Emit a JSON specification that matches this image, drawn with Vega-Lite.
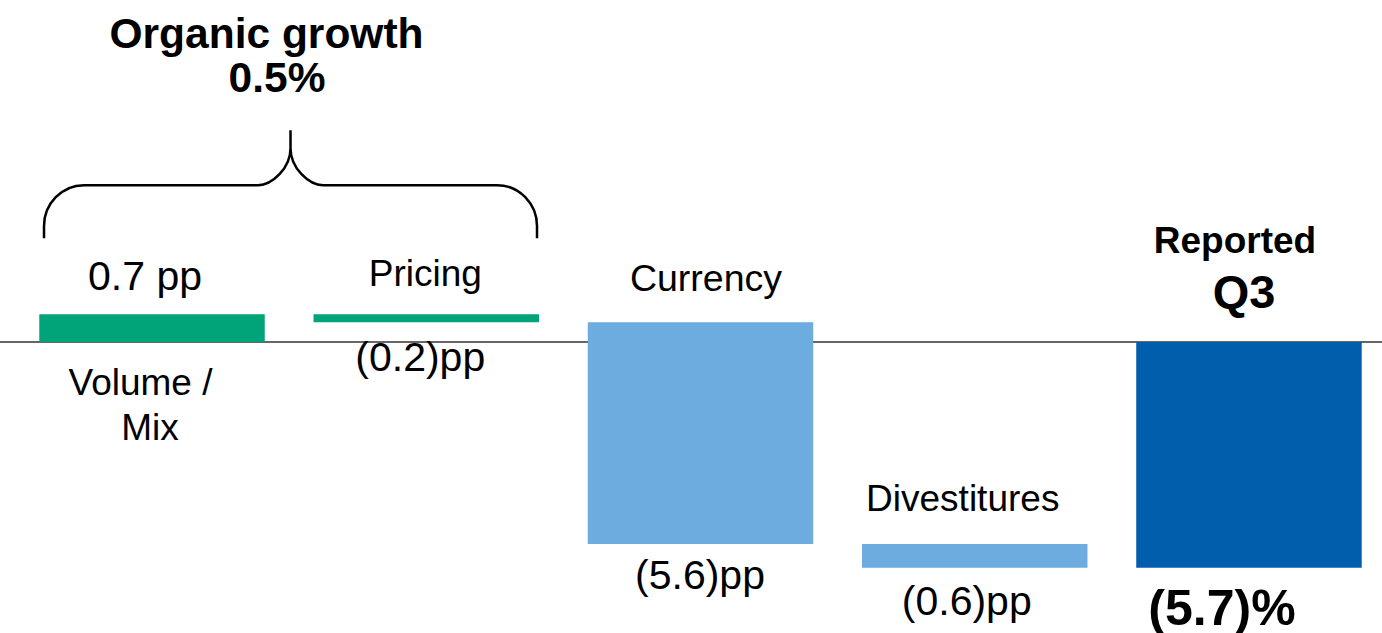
{
  "$schema": "https://vega.github.io/schema/vega-lite/v6.json",
  "width": 1382,
  "height": 633,
  "autosize": "none",
  "padding": 0,
  "background": "white",
  "config": {
    "view": {"stroke": null}
  },
  "data": {
    "values": [
      {"step": "Volume / Mix", "start": 0, "end": 0.7, "group": "Organic", "name": "Volume /", "sub": "Mix", "value": "0.7 pp"},
      {"step": "Pricing", "start": 0.7, "end": 0.5, "group": "Organic", "name": "Pricing", "value": "(0.2)pp"},
      {"step": "Currency", "start": 0.5, "end": -5.1, "group": "Other", "name": "Currency", "value": "(5.6)pp"},
      {"step": "Divestitures", "start": -5.1, "end": -5.7, "group": "Other", "name": "Divestitures", "value": "(0.6)pp"},
      {"step": "Reported Q3", "start": 0, "end": -5.7, "group": "Reported", "name": "Reported", "sub": "Q3", "value": "(5.7)%"}
    ]
  },
  "encoding": {
    "x": {
      "field": "step", "type": "nominal", "axis": null,
      "scale": {
        "domain": ["Volume / Mix", "Pricing", "Currency", "Divestitures", "Reported Q3"],
        "range": [0, 1401],
        "paddingInner": 0.1778, "paddingOuter": 0.1432
      }
    }
  },
  "layer": [
    {
      "data": {"values": [{"level": 0}]},
      "mark": {"type": "rule", "color": "#333333", "strokeWidth": 1.6},
      "encoding": {
        "x": null,
        "y": {"field": "level", "type": "quantitative", "axis": null, "scale": {"domain": [-7.348, 8.636], "nice": false, "zero": false}}
      }
    },
    {
      "mark": {"type": "bar"},
      "encoding": {
        "y": {"field": "start", "type": "quantitative", "axis": null},
        "y2": {"field": "end"},
        "color": {
          "field": "group", "type": "nominal", "legend": null,
          "scale": {"domain": ["Organic", "Other", "Reported"], "range": ["#00a478", "#6dacde", "#005eac"]}
        }
      }
    },
    {
      "transform": [{"filter": "datum.step == 'Pricing'"}],
      "mark": {"type": "text", "font": "Liberation Sans", "fontSize": 37, "baseline": "alphabetic", "align": "center", "dy": -28, "dx": -1},
      "encoding": {
        "y": {"field": "start", "type": "quantitative"},
        "text": {"field": "name", "type": "nominal"}
      }
    },
    {
      "transform": [{"filter": "datum.step == 'Currency'"}],
      "mark": {"type": "text", "font": "Liberation Sans", "fontSize": 37.5, "baseline": "alphabetic", "align": "center", "dy": -31, "dx": 5.5},
      "encoding": {
        "y": {"field": "start", "type": "quantitative"},
        "text": {"field": "name", "type": "nominal"}
      }
    },
    {
      "transform": [{"filter": "datum.step == 'Divestitures'"}],
      "mark": {"type": "text", "font": "Liberation Sans", "fontSize": 37, "baseline": "alphabetic", "align": "center", "dy": -33, "dx": -12},
      "encoding": {
        "y": {"field": "start", "type": "quantitative"},
        "text": {"field": "name", "type": "nominal"}
      }
    },
    {
      "transform": [{"filter": "datum.step == 'Pricing'"}],
      "mark": {"type": "text", "font": "Liberation Sans", "fontSize": 41, "baseline": "alphabetic", "align": "center", "dy": 49, "dx": -6},
      "encoding": {
        "y": {"field": "end", "type": "quantitative"},
        "text": {"field": "value", "type": "nominal"}
      }
    },
    {
      "transform": [{"filter": "datum.step == 'Currency'"}],
      "mark": {"type": "text", "font": "Liberation Sans", "fontSize": 41, "baseline": "alphabetic", "align": "center", "dy": 45, "dx": -0.5},
      "encoding": {
        "y": {"field": "end", "type": "quantitative"},
        "text": {"field": "value", "type": "nominal"}
      }
    },
    {
      "transform": [{"filter": "datum.step == 'Divestitures'"}],
      "mark": {"type": "text", "font": "Liberation Sans", "fontSize": 41, "baseline": "alphabetic", "align": "center", "dy": 47, "dx": -8},
      "encoding": {
        "y": {"field": "end", "type": "quantitative"},
        "text": {"field": "value", "type": "nominal"}
      }
    },
    {
      "transform": [{"filter": "datum.step == 'Volume / Mix'"}],
      "mark": {"type": "text", "font": "Liberation Sans", "fontSize": 41, "baseline": "alphabetic", "align": "center", "dy": -24, "dx": -7},
      "encoding": {
        "y": {"field": "end", "type": "quantitative"},
        "text": {"field": "value", "type": "nominal"}
      }
    },
    {
      "transform": [{"filter": "datum.step == 'Volume / Mix'"}],
      "mark": {"type": "text", "font": "Liberation Sans", "fontSize": 37, "baseline": "alphabetic", "align": "center", "dy": 53, "dx": -11.5},
      "encoding": {
        "y": {"field": "start", "type": "quantitative"},
        "text": {"field": "name", "type": "nominal"}
      }
    },
    {
      "transform": [{"filter": "datum.step == 'Volume / Mix'"}],
      "mark": {"type": "text", "font": "Liberation Sans", "fontSize": 37, "baseline": "alphabetic", "align": "center", "dy": 98, "dx": -2},
      "encoding": {
        "y": {"field": "start", "type": "quantitative"},
        "text": {"field": "sub", "type": "nominal"}
      }
    },
    {
      "transform": [{"filter": "datum.step == 'Reported Q3'"}],
      "mark": {"type": "text", "font": "Liberation Sans", "fontSize": 37, "fontWeight": "bold", "baseline": "alphabetic", "align": "center", "dy": -89, "dx": -14},
      "encoding": {
        "y": {"field": "start", "type": "quantitative"},
        "text": {"field": "name", "type": "nominal"}
      }
    },
    {
      "transform": [{"filter": "datum.step == 'Reported Q3'"}],
      "mark": {"type": "text", "font": "Liberation Sans", "fontSize": 47, "fontWeight": "bold", "baseline": "alphabetic", "align": "center", "dy": -34, "dx": -5},
      "encoding": {
        "y": {"field": "start", "type": "quantitative"},
        "text": {"field": "sub", "type": "nominal"}
      }
    },
    {
      "transform": [{"filter": "datum.step == 'Reported Q3'"}],
      "mark": {"type": "text", "font": "Liberation Sans", "fontSize": 50, "fontWeight": "bold", "baseline": "alphabetic", "align": "center", "dy": 57, "dx": -27},
      "encoding": {
        "y": {"field": "end", "type": "quantitative"},
        "text": {"field": "value", "type": "nominal"}
      }
    },
    {
      "data": {"values": [{"step": "Volume / Mix", "level": 3.96, "title": "Organic growth", "total": "0.5%"}]},
      "layer": [
        {
          "mark": {
            "type": "point",
            "shape": "M-1,0.215 L-1,0.166 C-1,0.075 -0.927,0 -0.838,0 L-0.132,0 C-0.075,0 0,-0.069 0,-0.15 L0,-0.223 M0,-0.15 C0,-0.069 0.075,0 0.132,0 L0.838,0 C0.927,0 1,0.075 1,0.166 L1,0.215",
            "size": 243049,
            "filled": false,
            "stroke": "#000000",
            "strokeWidth": 2.5,
            "opacity": 1,
            "xOffset": 138.5
          },
          "encoding": {
            "y": {"field": "level", "type": "quantitative"}
          }
        },
        {
          "mark": {"type": "text", "font": "Liberation Sans", "fontSize": 42.5, "fontWeight": "bold", "baseline": "alphabetic", "align": "center", "dy": -137, "dx": 114.5},
          "encoding": {
            "y": {"field": "level", "type": "quantitative"},
            "text": {"field": "title", "type": "nominal"}
          }
        },
        {
          "mark": {"type": "text", "font": "Liberation Sans", "fontSize": 42.5, "fontWeight": "bold", "baseline": "alphabetic", "align": "center", "dy": -93, "dx": 125},
          "encoding": {
            "y": {"field": "level", "type": "quantitative"},
            "text": {"field": "total", "type": "nominal"}
          }
        }
      ]
    }
  ]
}
